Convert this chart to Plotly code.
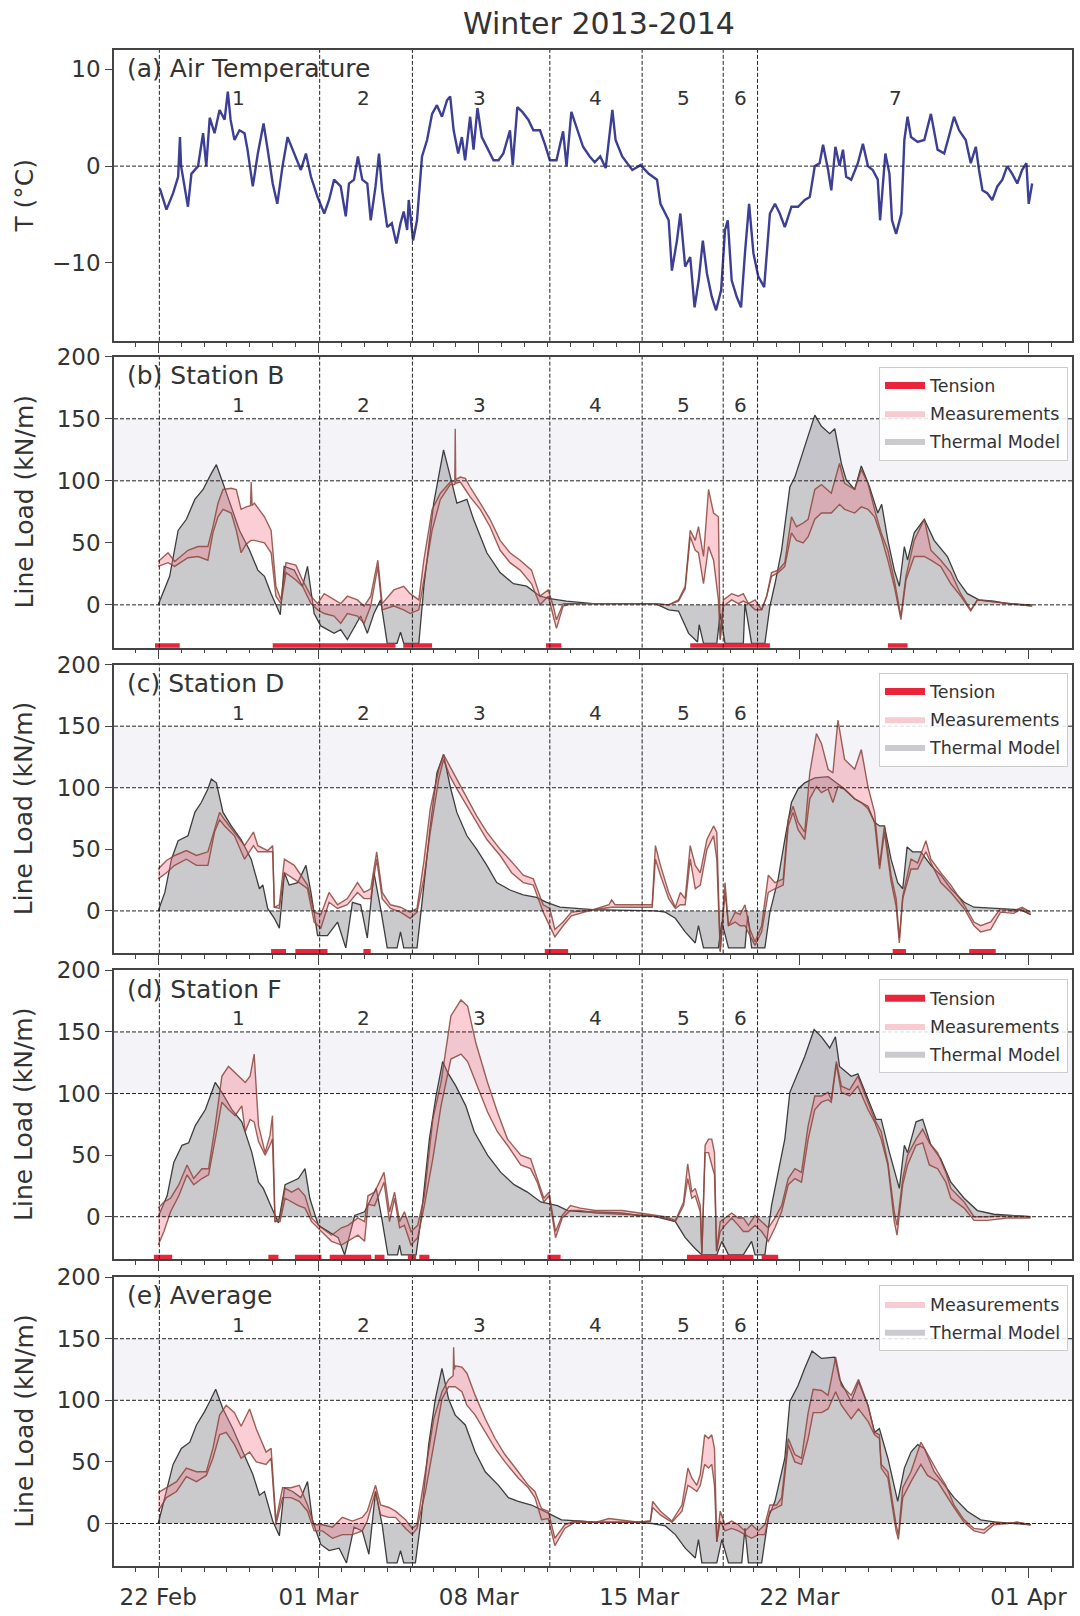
import numpy as np
import pandas as pd
import plotly.graph_objects as go

BASE = pd.Timestamp("2014-02-22")

# ---------------- data (t in days since 22 Feb 2014 00:00) ----------------
TEMP_T = [0.07,0.36,0.65,0.8,0.87,0.95,1.0,1.3,1.45,1.74,1.96,2.1,2.25,2.46,2.68,2.9,3.04,3.16,3.33,3.55,3.77,3.9,4.13,4.35,4.6,4.78,5.0,5.2,5.43,5.65,5.94,6.23,6.45,6.67,6.96,7.25,7.46,7.68,7.97,8.19,8.33,8.55,8.72,8.91,9.13,9.28,9.49,9.64,9.78,10.0,10.2,10.4,10.58,10.72,10.87,10.94,11.13,11.3,11.52,11.74,11.96,12.17,12.39,12.61,12.75,12.9,13.1,13.26,13.4,13.62,13.77,13.94,14.13,14.35,14.64,14.86,15.07,15.36,15.48,15.68,15.9,16.16,16.38,16.67,16.88,17.1,17.39,17.68,17.83,18.04,18.26,18.55,18.84,19.06,19.3,19.54,19.83,19.97,20.26,20.7,21.06,21.42,21.78,21.93,22.29,22.43,22.65,22.8,23.01,23.23,23.42,23.6,23.78,23.96,24.17,24.36,24.58,24.75,24.87,25.04,25.26,25.45,25.62,25.8,25.99,26.2,26.46,26.71,26.93,27.14,27.36,27.65,27.94,28.23,28.45,28.67,28.88,29.03,29.25,29.39,29.57,29.75,29.9,30.04,30.26,30.55,30.77,30.99,31.2,31.42,31.52,31.64,31.75,31.93,32.04,32.22,32.45,32.58,32.72,32.87,33.16,33.45,33.74,34.03,34.32,34.54,34.75,34.97,35.26,35.48,35.7,35.84,35.99,36.2,36.42,36.64,36.86,37.07,37.29,37.51,37.72,37.91,38.01,38.16]
TEMP_V = [-2.3,-4.5,-2.8,-1.6,-1.1,3.0,0.0,-4.2,-0.8,0.0,3.4,0.0,5.0,3.4,5.8,4.8,7.7,4.8,2.7,3.7,3.4,1.7,-2.1,1.3,4.4,1.7,-1.8,-3.9,0.0,3.0,1.3,-0.4,1.3,-1.1,-3.2,-4.9,-3.5,-1.4,-2.1,-5.2,-1.8,-1.4,1.0,-1.4,-1.8,-5.6,-2.1,1.3,-2.5,-6.3,-5.9,-8.0,-5.9,-4.7,-6.6,-3.5,-7.7,-5.6,1.0,2.7,5.4,6.3,5.1,6.8,7.2,3.7,1.3,3.0,0.6,5.1,1.7,6.0,3.0,2.0,0.6,0.6,1.3,3.7,0.1,6.1,5.6,4.8,3.7,3.7,2.3,0.6,0.6,3.6,0.0,5.6,4.1,2.0,1.0,0.4,1.0,-0.2,5.8,2.7,1.0,-0.4,0.1,-0.8,-1.4,-3.9,-5.6,-10.8,-7.7,-4.9,-10.4,-9.4,-14.6,-11.8,-7.7,-11.1,-13.5,-14.9,-12.8,-6.6,-5.6,-11.8,-13.5,-14.6,-9.0,-3.9,-9.0,-11.4,-12.5,-4.9,-3.9,-4.9,-6.3,-4.2,-4.2,-3.5,-3.2,0.0,0.3,2.2,-0.4,-2.5,2.0,0.0,1.7,-1.1,-1.4,0.3,2.3,0.0,-0.4,-1.4,-5.6,-1.8,1.3,-0.8,-5.6,-7.0,-4.9,2.7,5.1,3.0,2.5,2.7,5.4,1.7,1.3,3.2,5.1,3.7,2.7,0.3,2.0,-0.4,-2.5,-2.8,-3.5,-2.1,-1.4,0.0,-0.8,-1.8,-0.4,0.3,-3.9,-1.8]

# Station B
B_MODEL_T = [0.0,0.5,0.87,1.23,1.6,1.96,2.32,2.54,2.83,3.19,3.55,3.99,4.35,4.64,4.93,5.33,5.5,5.94,6.3,6.52,6.81,7.1,7.68,7.97,8.26,8.84,9.13,9.42,9.71,10.0,10.43,10.58,10.72,11.38,11.6,12.03,12.46,12.83,13.04,13.48,13.77,14.35,14.93,15.51,16.09,16.67,17.1,17.83,18.99,21.71,22.29,22.72,23.16,23.55,23.62,23.81,24.39,24.54,24.75,25.55,25.62,25.91,26.49,26.71,26.93,27.22,27.58,27.8,28.09,28.38,28.67,28.96,29.32,29.54,29.83,30.04,30.41,30.7,31.06,31.42,31.59,31.86,32.14,32.36,32.58,32.72,33.01,33.45,33.88,34.46,34.9,35.33,35.84,36.49,37.07,38.16]
B_MODEL_V = [0,23,60,69,85,93,106,113,98,79,60,44,28,23,9,-8,31,28,15,31,-7,-17,-23,-20,-28,-9,-23,-7,4,-31,-31,-22,-31,-31,15,82,125,98,82,85,69,42,26,17,15,7,5,3,1,1,-4,-5,-23,-30,-16,-31,-31,-7,-31,-31,1,-31,-31,-1,17,44,95,103,120,136,153,144,138,142,114,101,93,112,95,74,81,52,28,15,47,36,58,69,52,39,20,9,4,3,1,0]
B_MEAS_T = [0.0,0.43,0.72,1.3,1.74,2.17,2.39,2.61,2.83,3.19,3.41,3.62,3.84,4.03,4.06,4.1,4.2,4.64,4.93,5.14,5.36,5.58,6.01,6.3,6.67,6.96,7.25,7.68,7.97,8.26,8.7,8.99,9.28,9.59,9.78,10.29,10.72,11.0,11.38,11.6,11.96,12.32,12.75,12.95,12.97,12.99,13.19,13.41,13.62,14.06,14.49,14.93,15.36,15.8,16.3,16.67,17.03,17.25,17.39,17.68,18.1,19.0,21.7,22.29,22.72,23.01,23.23,23.45,23.59,23.81,24.03,24.25,24.46,24.54,24.68,25.04,25.33,25.55,25.77,26.06,26.35,26.57,26.78,27.07,27.36,27.65,27.87,28.16,28.38,28.67,28.96,29.39,29.75,29.97,30.41,30.7,30.99,31.28,31.57,31.86,32.14,32.43,32.65,33.01,33.45,33.74,34.17,34.61,35.04,35.48,35.77,36.2,37.07,38.16]
B_MEAS_LO = [31,34,31,38,39,36,58,71,77,74,60,42,49,52,52,52,52,50,42,7,1,26,20,15,1,-4,-7,-9,-15,-7,-9,-15,-1,31,-4,-1,-4,-7,-4,20,60,85,97,97,100,98,99,93,87,77,63,44,34,28,17,0,7,-9,-19,-1,1,1,1,0,3,13,55,44,42,17,47,36,4,-28,-1,4,1,3,1,-4,-4,7,23,26,31,58,52,50,55,69,74,74,81,77,74,79,77,71,55,36,15,-12,20,39,39,36,31,17,7,-5,4,3,1,-1]
B_MEAS_HI = [35,42,35,44,47,47,63,82,93,94,93,77,79,80,99,80,82,71,60,15,4,34,32,20,7,1,9,4,1,7,4,-1,7,36,1,12,15,9,4,36,77,90,99,100,142,101,103,102,95,82,69,52,42,36,28,7,12,-1,-12,1,1,1,1,0,4,15,60,52,63,39,93,74,71,-28,4,9,7,9,1,4,-4,7,26,28,34,71,63,66,69,93,97,90,114,98,93,109,98,77,58,44,20,-9,23,52,69,44,36,26,9,-4,4,3,1,-1]
B_TENSION = [(-0.14,0.94),(5.0,10.36),(10.7,11.96),(16.93,17.6),(23.23,26.71),(31.86,32.72)]

# Station D
C_MODEL_T = [0,0.29,0.58,0.87,1.3,1.6,1.88,2.17,2.32,2.54,2.83,3.19,3.62,4.06,4.42,4.57,4.78,5.07,5.29,5.51,5.72,6.09,6.45,6.67,6.96,7.39,7.83,8.19,8.48,8.84,9.13,9.42,9.71,10.0,10.43,10.58,10.72,11.3,11.52,11.88,12.17,12.46,12.75,13.04,13.48,13.91,14.35,14.78,15.36,15.94,16.52,16.96,17.54,18.12,18.99,21.71,22.14,22.58,23.01,23.45,23.59,23.81,24.46,24.61,24.9,25.62,25.74,25.91,26.49,26.71,27.07,27.36,27.65,27.94,28.23,28.67,29.25,29.83,30.41,30.99,31.28,31.5,31.71,32.0,32.29,32.51,32.7,32.94,33.3,33.74,34.17,34.61,35.19,35.62,36.49,37.65,38.09]
C_MODEL_V = [0,15,42,57,61,80,88,99,107,104,80,69,58,42,18,21,2,-6,-14,31,21,23,37,15,-20,-20,-9,-30,7,5,-22,31,2,-30,-30,-17,-30,-30,7,69,112,127,101,80,61,50,37,23,17,13,11,7,3,2,1,0,-1,-6,-17,-26,-12,-30,-30,-9,-30,-30,-4,-30,-30,-1,26,58,88,99,104,108,109,101,91,85,72,69,69,42,23,18,52,48,48,37,29,18,7,3,2,1,-3]
C_MEAS_T = [0,0.36,0.72,1.23,1.67,2.17,2.46,2.68,2.9,3.33,3.77,4.16,4.35,4.78,5.0,5.07,5.29,5.51,5.94,6.16,6.52,6.81,7.1,7.46,7.83,8.26,8.7,8.99,9.28,9.54,9.78,10.14,10.58,11.0,11.3,11.6,11.88,12.25,12.46,12.75,13.04,13.48,13.91,14.35,14.93,15.43,15.94,16.38,16.81,17.1,17.32,17.68,18.04,18.99,19.68,19.8,19.95,20.26,21.57,21.71,21.93,22.29,22.58,22.8,23.01,23.23,23.45,23.67,23.96,24.25,24.39,24.54,24.75,24.9,25.19,25.41,25.62,25.84,26.06,26.35,26.64,26.93,27.29,27.51,27.72,27.94,28.23,28.45,28.74,28.96,29.25,29.46,29.68,29.97,30.41,30.7,30.99,31.28,31.5,31.71,32.0,32.22,32.36,32.51,32.87,33.16,33.52,33.74,34.17,34.61,35.19,35.62,35.91,36.35,36.78,37.36,37.72,38.09]
C_MEAS_LO = [26,31,37,42,37,37,64,74,69,61,42,53,48,48,48,3,2,31,26,23,18,-9,-14,7,2,5,15,10,10,42,10,2,-1,-6,-1,26,64,107,123,109,99,85,72,58,45,31,23,21,-1,-12,-21,-12,-4,1,3,3,3,3,3,42,29,10,2,5,5,42,18,21,50,61,42,-33,15,-12,-9,-12,-12,-20,-28,-17,15,18,21,69,80,66,58,91,101,96,99,88,101,99,91,88,83,72,34,64,24,4,-26,10,34,34,48,39,23,15,2,-12,-17,-15,-1,-2,2,-3]
C_MEAS_HI = [34,41,45,49,45,48,66,80,74,64,53,64,53,49,53,3,5,42,37,31,21,-1,-3,15,5,10,23,15,18,48,15,5,3,-1,2,40,83,115,127,117,107,91,77,64,50,40,29,26,5,2,-15,-9,-1,1,5,9,5,5,5,53,37,15,3,15,10,53,37,31,58,69,64,-33,23,-12,-1,-3,5,-15,-25,-12,29,23,26,74,85,72,64,112,144,136,115,112,155,123,115,131,101,80,37,69,29,10,-22,12,42,39,57,42,31,21,5,-9,-12,-9,2,0,3,-1]
C_TENSION = [(4.93,5.58),(5.99,7.39),(8.96,9.28),(16.88,17.9),(32.07,32.65),(35.41,36.57)]

# Station F
D_MODEL_T = [0,0.39,0.68,1.04,1.33,1.62,2.06,2.49,2.78,3.22,3.65,4.09,4.38,4.59,4.96,5.25,5.54,6.12,6.41,6.62,6.99,7.42,7.86,8.14,8.58,9.01,9.3,9.52,9.74,10.03,10.45,10.54,10.62,11.26,11.48,11.84,12.13,12.42,12.64,13.0,13.43,13.8,14.38,14.96,15.54,16.12,16.7,16.99,17.43,17.88,18.58,19.09,20.26,20.99,21.71,22.58,23.01,23.45,23.74,24.39,24.61,24.9,25.55,25.91,26.06,26.49,26.78,27.07,27.36,27.58,27.87,28.23,28.64,28.96,29.32,29.57,29.75,30.26,30.55,30.99,31.35,31.57,31.93,32.36,32.58,32.72,33.09,33.38,33.74,34.17,34.61,35.19,35.77,36.49,38.09]
D_MODEL_V = [0,17,44,58,60,74,87,109,101,87,77,52,28,23,7,-5,26,31,39,15,-7,-12,-17,-31,1,4,15,23,1,-31,-31,-23,-31,-31,-1,63,98,126,117,106,90,69,50,36,26,20,12,11,9,5,4,4,3,1,0,-4,-17,-26,-31,-31,-20,-31,-31,-20,-31,-31,9,36,63,101,114,130,152,146,137,146,122,114,116,95,79,79,52,23,58,52,77,79,58,47,28,15,5,2,0]
D_MEAS_T = [0,0.25,0.54,0.9,1.26,1.55,1.91,2.2,2.49,2.78,3.07,3.36,3.65,3.8,4.01,4.19,4.38,4.67,4.88,4.99,5.1,5.32,5.54,5.83,6.12,6.41,6.7,7.13,7.57,8.0,8.29,8.72,9.01,9.16,9.45,9.86,10.1,10.32,10.54,10.75,11.04,11.33,11.62,11.99,12.35,12.78,13.22,13.51,13.87,14.38,14.81,15.25,15.83,16.26,16.55,16.84,17.06,17.35,17.64,18.0,18.43,19.09,20.26,21.42,22.14,22.58,22.94,23.12,23.3,23.45,23.67,23.74,23.88,24.03,24.17,24.29,24.38,24.54,24.75,25.04,25.33,25.55,25.77,26.06,26.35,26.64,26.93,27.22,27.51,27.8,28.09,28.38,28.67,28.96,29.25,29.39,29.61,29.83,30.19,30.55,30.99,31.28,31.57,31.86,32.14,32.26,32.51,32.72,33.09,33.38,33.67,34.03,34.39,34.61,35.19,35.62,36.2,37.07,38.09]
D_MEAS_LO = [-23,-12,4,17,34,26,31,34,63,93,87,82,90,69,79,77,61,50,58,63,-4,-4,15,12,9,7,-4,-12,-20,-23,-20,-15,-20,10,9,28,-4,15,-9,-7,-23,-17,9,47,90,128,132,126,109,85,69,58,42,39,28,12,17,-17,-1,5,5,3,2,1,-1,-4,9,31,15,17,4,-30,52,52,42,34,-28,-12,-7,-1,-7,-12,-12,-7,-12,-20,-9,4,26,31,28,63,87,93,95,93,124,101,98,106,87,77,63,42,-4,-15,26,42,58,60,42,39,28,15,7,-3,-3,-1,-1]
D_MEAS_HI = [7,12,15,26,42,31,39,39,74,114,122,117,112,109,114,132,74,52,66,82,-4,-1,23,20,23,17,-1,-9,-15,-9,-7,-1,-4,17,20,36,4,20,-4,4,-12,-7,17,79,109,163,176,171,141,109,85,63,50,47,31,15,20,-12,1,9,7,5,5,2,0,-3,12,43,20,23,9,-30,58,63,63,52,-28,-4,-1,3,-1,-1,-7,1,-4,-9,-1,9,31,39,36,74,98,98,101,95,126,106,103,114,93,79,69,44,4,-7,31,50,63,71,60,52,36,23,12,0,0,1,0]
D_TENSION = [(-0.19,0.61),(4.81,5.25),(5.97,7.13),(7.49,9.3),(9.45,9.88),(10.9,11.26),(11.4,11.84),(16.99,17.57),(23.09,25.99),(26.35,27.07)]

# Average
E_MODEL_T = [0,0.36,0.65,1.01,1.38,1.67,2.03,2.25,2.51,2.83,3.26,3.7,4.13,4.42,4.64,5.0,5.29,5.51,5.87,6.23,6.52,6.74,7.1,7.46,7.9,8.22,8.55,8.91,9.2,9.49,9.78,10.0,10.43,10.58,10.72,11.23,11.45,11.81,12.1,12.39,12.68,12.97,13.41,13.84,14.28,14.86,15.29,15.72,16.3,16.74,17.17,17.61,18.48,19.13,20.99,21.57,22.14,22.58,23.01,23.45,23.59,23.74,24.39,24.61,24.9,25.48,25.62,25.77,26.35,26.64,26.93,27.36,27.58,27.94,28.23,28.55,28.96,29.54,29.75,30.26,30.58,30.99,31.28,31.49,31.86,32.29,32.58,32.87,33.16,33.45,33.88,34.32,34.75,35.33,35.91,36.64,38.09]
E_MODEL_V = [0,26,48,61,66,80,91,99,109,93,77,58,40,23,26,2,-10,29,26,21,34,2,-17,-22,-20,-32,-3,-6,-25,26,-1,-32,-32,-22,-32,-32,-1,64,101,126,101,88,80,58,42,31,21,18,15,11,7,3,2,1,1,0,-2,-9,-20,-28,-13,-32,-32,-13,-32,-32,-4,-32,-32,5,18,53,99,112,126,140,134,135,117,99,115,96,74,77,53,18,45,58,64,61,42,31,21,10,3,1,-1]
E_MEAS_T = [0,0.36,0.8,1.23,1.67,2.1,2.39,2.68,2.97,3.33,3.62,3.99,4.28,4.71,4.93,5.14,5.43,5.8,6.16,6.52,6.81,7.17,7.61,8.04,8.48,8.91,9.13,9.49,9.71,10.07,10.36,10.8,11.09,11.3,11.67,12.03,12.39,12.68,12.88,12.9,12.93,12.97,13.26,13.48,13.84,14.28,14.71,15.14,15.72,16.16,16.45,16.74,17.03,17.32,17.75,18.19,19.13,19.68,20.99,21.49,21.59,21.93,22.43,22.87,23.13,23.3,23.52,23.67,23.86,24.03,24.17,24.29,24.39,24.54,24.75,25.04,25.33,25.62,25.91,26.2,26.49,26.71,27.0,27.22,27.51,27.8,28.09,28.38,28.6,28.96,29.25,29.58,29.83,30.26,30.58,30.99,31.28,31.49,31.57,31.86,32.22,32.32,32.51,32.87,33.3,33.59,34.03,34.39,34.75,35.19,35.62,36.06,36.49,37.07,37.51,38.09]
E_MEAS_LO = [10,21,26,38,34,39,53,72,74,64,53,58,50,48,53,-1,21,21,18,10,-6,-6,-12,-9,-9,-6,2,26,7,5,5,-4,-9,-4,26,64,101,111,111,111,111,111,107,96,88,74,61,50,37,29,21,3,4,-18,-4,1,1,1,1,2,13,7,1,10,31,29,26,31,48,45,48,31,-15,2,-6,-4,-6,-9,-12,-9,-9,10,13,15,64,50,48,69,90,90,93,107,96,85,93,83,72,69,45,37,-6,-13,21,34,48,39,34,23,13,1,-6,-8,-1,0,1,-1]
E_MEAS_HI = [25,29,34,45,42,42,61,88,96,90,79,93,77,58,61,2,29,29,31,15,-1,-1,-3,5,2,5,10,31,15,13,10,3,-4,-1,42,85,107,117,120,143,125,128,127,122,104,85,69,56,42,31,26,12,10,-12,-1,2,1,4,1,2,18,10,2,15,45,37,31,40,72,69,72,61,-15,10,-1,2,-1,-6,-1,-6,-1,15,15,21,69,56,53,90,109,108,104,135,112,104,117,96,74,72,48,42,-1,-9,29,42,66,56,42,31,15,3,-4,-5,1,0,1,-1]

EVENT_BOUNDS = [0.05, 7.05, 11.1, 17.1, 21.13, 24.67, 26.17]
EVENT_LABEL_T = [3.5, 8.98, 14.03, 19.1, 22.95, 25.42, 32.2]
EVENT_LABELS = ["1", "2", "3", "4", "5", "6", "7"]

MAJOR_TICK_DATES = ["2014-02-22", "2014-03-01", "2014-03-08", "2014-03-15", "2014-03-22", "2014-04-01"]
MAJOR_TICK_TEXT = ["22 Feb", "01 Mar", "08 Mar", "15 Mar", "22 Mar", "01 Apr"]

PANEL_TITLES = ["(a) Air Temperature", "(b) Station B", "(c) Station D", "(d) Station F", "(e) Average"]

# ---------------- styling ----------------
FONT = "DejaVu Sans"
TXT = "#333333"
TEMP_COLOR = "#3c3f94"
MODEL_FILL = "rgba(150,150,156,0.5)"
MODEL_LINE = "#3d3d3d"
MEAS_FILL = "rgba(240,120,135,0.36)"
MEAS_LINE = "rgba(140,70,60,0.85)"
TENSION_COLOR = "#e8253a"

def dates(ts):
    return [BASE + pd.Timedelta(days=float(t)) for t in ts]

# layout geometry (pixels)
W, H = 1080, 1616
ML, MR, MT, MB = 114, 6, 50, 44
PH = H - MT - MB
panels_px = [(50, 342), (358, 650), (667, 957), (974, 1264), (1282, 1572)]
domains = [[(H - MB - b) / PH, (H - MB - t) / PH] for (t, b) in panels_px]
domains = [[max(0, d[0]), min(1, d[1])] for d in domains]

fig = go.Figure()

# panel a
fig.add_trace(go.Scatter(x=dates(TEMP_T), y=TEMP_V, mode="lines",
                         line=dict(color=TEMP_COLOR, width=2.4), showlegend=False,
                         xaxis="x", yaxis="y"))

panels = [
    (B_MODEL_T, B_MODEL_V, B_MEAS_T, B_MEAS_LO, B_MEAS_HI, B_TENSION),
    (C_MODEL_T, C_MODEL_V, C_MEAS_T, C_MEAS_LO, C_MEAS_HI, C_TENSION),
    (D_MODEL_T, D_MODEL_V, D_MEAS_T, D_MEAS_LO, D_MEAS_HI, D_TENSION),
    (E_MODEL_T, E_MODEL_V, E_MEAS_T, E_MEAS_LO, E_MEAS_HI, None),
]
legend_names = ["legend", "legend2", "legend3", "legend4"]

for i, (mt, mv, st, lo, hi, ten) in enumerate(panels):
    k = i + 2
    xa, ya = f"x{k}", f"y{k}"
    lg = legend_names[i]
    fig.add_trace(go.Scatter(x=dates(mt), y=mv, mode="lines", fill="tozeroy",
                             fillcolor=MODEL_FILL, line=dict(color=MODEL_LINE, width=1.3),
                             showlegend=False, xaxis=xa, yaxis=ya))
    fig.add_trace(go.Scatter(x=dates(st), y=lo, mode="lines",
                             line=dict(color=MEAS_LINE, width=1.4),
                             showlegend=False, xaxis=xa, yaxis=ya))
    fig.add_trace(go.Scatter(x=dates(st), y=hi, mode="lines", fill="tonexty",
                             fillcolor=MEAS_FILL, line=dict(color=MEAS_LINE, width=1.4),
                             showlegend=False, xaxis=xa, yaxis=ya))
    if ten is not None:
        tx, ty = [], []
        for a, b in ten:
            tx += [BASE + pd.Timedelta(days=a), BASE + pd.Timedelta(days=b), None]
            ty += [-33, -33, None]
        fig.add_trace(go.Scatter(x=tx, y=ty, mode="lines",
                                 line=dict(color=TENSION_COLOR, width=5),
                                 showlegend=False, xaxis=xa, yaxis=ya))
        fig.add_trace(go.Scatter(x=[None], y=[None], mode="lines", name="Tension",
                                 line=dict(color=TENSION_COLOR, width=7),
                                 legend=lg, legendgroup=f"t{k}", xaxis=xa, yaxis=ya))
    fig.add_trace(go.Scatter(x=[None], y=[None], mode="lines", name="Measurements",
                             fill="toself", fillcolor="rgba(248,202,210,1)",
                             line=dict(width=0, color="rgba(0,0,0,0)"),
                             legend=lg, legendgroup=f"m{k}", xaxis=xa, yaxis=ya))
    fig.add_trace(go.Scatter(x=[None], y=[None], mode="lines", name="Thermal Model",
                             fill="toself", fillcolor="rgba(203,203,207,1)",
                             line=dict(width=0, color="rgba(0,0,0,0)"),
                             legend=lg, legendgroup=f"g{k}", xaxis=xa, yaxis=ya))

x_range = [BASE + pd.Timedelta(days=-1.93), BASE + pd.Timedelta(days=39.9)]

layout = dict(
    width=W, height=H,
    margin=dict(l=ML, r=MR, t=MT, b=MB),
    paper_bgcolor="white", plot_bgcolor="white",
    font=dict(family=FONT, color=TXT, size=23),
    title=dict(text="Winter 2013-2014", font=dict(size=30, family=FONT, color=TXT),
               x=0.5546, xref="container", y=1 - 23 / H, yref="container",
               xanchor="center", yanchor="middle"),
)

shapes = []
annotations = []
for p in range(5):
    k = "" if p == 0 else str(p + 1)
    xkey, ykey = f"xaxis{k}", f"yaxis{k}"
    xa = dict(domain=[0, 1], range=x_range, type="date", anchor=f"y{k}",
              showline=True, mirror=True, linecolor="#444", linewidth=1.5,
              showgrid=False, zeroline=False,
              ticks="outside", ticklen=10, tickcolor="#444", tickwidth=1.3,
              tickmode="array", tickvals=MAJOR_TICK_DATES, ticktext=MAJOR_TICK_TEXT,
              showticklabels=(p == 4), tickfont=dict(size=23, family=FONT, color=TXT),
              minor=dict(dtick=86400000, tick0="2014-02-22", ticks="outside",
                         ticklen=4, tickcolor="#444", tickwidth=1, showgrid=False))
    if p > 0:
        xa["matches"] = "x"
    layout[xkey] = xa
    if p == 0:
        ya = dict(domain=domains[p], range=[-18.06, 12], tickmode="array",
                  tickvals=[-10, 0, 10], ticktext=["\u221210", "0", "10"])
    else:
        ya = dict(domain=domains[p], range=[-34.5, 200], tickmode="array",
                  tickvals=[0, 50, 100, 150, 200], ticktext=["0", "50", "100", "150", "200"])
    ya.update(anchor=f"x{k}", showline=True, mirror=True, linecolor="#444", linewidth=1.5,
              showgrid=False, zeroline=False, ticks="outside", ticklen=7,
              tickcolor="#444", tickwidth=1.3,
              tickfont=dict(size=23, family=FONT, color=TXT))
    layout[ykey] = ya

    xr, yr = f"x{k}", f"y{k}"
    if p == 0:
        hlines = [0]
    else:
        hlines = [0, 100, 150]
        shapes.append(dict(type="rect", xref=f"{xr} domain", yref=yr, x0=0, x1=1, y0=100, y1=150,
                           fillcolor="rgba(226,226,238,0.4)", line=dict(width=0), layer="below"))
    for h in hlines:
        shapes.append(dict(type="line", xref=f"{xr} domain", yref=yr, x0=0, x1=1, y0=h, y1=h,
                           line=dict(color="#222", width=1, dash="4px,2px")))
    for tb in EVENT_BOUNDS:
        d = BASE + pd.Timedelta(days=tb)
        shapes.append(dict(type="line", xref=xr, yref=f"{yr} domain", x0=d, x1=d, y0=0, y1=1,
                           line=dict(color="#222", width=1, dash="4px,2px")))
    nlab = 7 if p == 0 else 6
    ylab = 7 if p == 0 else 161
    for j in range(nlab):
        annotations.append(dict(x=BASE + pd.Timedelta(days=EVENT_LABEL_T[j]), y=ylab,
                                xref=xr, yref=yr, text=EVENT_LABELS[j], showarrow=False,
                                font=dict(size=20, family=FONT, color=TXT),
                                xanchor="center", yanchor="middle"))
    annotations.append(dict(x=0.012, y=0.935, xref="paper", yref=f"{yr} domain",
                            text=PANEL_TITLES[p], showarrow=False, xanchor="left",
                            yanchor="middle", font=dict(size=25, family=FONT, color=TXT)))
    annotations.append(dict(x=(24 - ML) / (W - ML - MR), y=0.5, xref="paper", yref=f"{yr} domain",
                            text="T (\u00b0C)" if p == 0 else "Line Load (kN/m)",
                            textangle=-90, showarrow=False, xanchor="center", yanchor="middle",
                            font=dict(size=25, family=FONT, color=TXT)))

legend_tops_px = [368, 675, 983, 1290]
for i, lg in enumerate(legend_names):
    layout[lg] = dict(x=(1070 - ML) / (W - ML - MR), xanchor="right",
                      y=(H - MB - legend_tops_px[i]) / PH, yanchor="top",
                      bgcolor="rgba(255,255,255,0.85)", bordercolor="#cccccc", borderwidth=1,
                      font=dict(size=17.5, family=FONT, color=TXT), traceorder="grouped",
                      tracegroupgap=2, itemwidth=40)

layout["shapes"] = shapes
layout["annotations"] = annotations
fig.update_layout(**layout)

fig.write_html("out.html")
